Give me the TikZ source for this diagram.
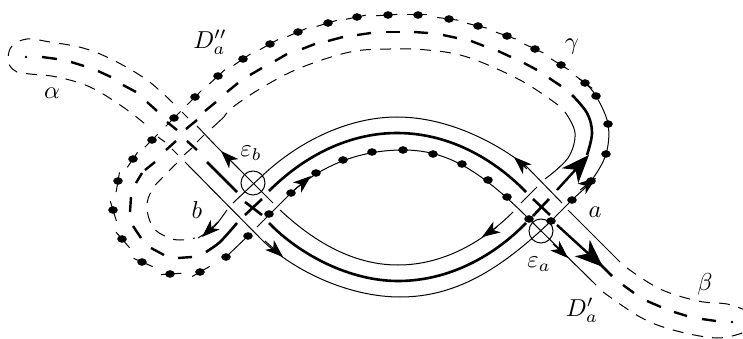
\documentclass[tikz,border=0pt]{standalone}
\usepackage{graphicx}
\usetikzlibrary{arrows.meta,calc}
\tikzset{
 thinl/.style={line width=1pt,line cap=butt},
 dashl/.style={thinl,dash pattern=on 11pt off 9pt},
 thickl/.style={line width=2.6pt},
 thickdash/.style={line width=2.4pt},
 arrowsmall/.style={-{Stealth[length=18pt,width=13pt,inset=5pt]},line width=1pt},
 arrowbig/.style={-{Stealth[length=28pt,width=22pt,inset=8pt]},line width=2.4pt},
 lab/.style={inner sep=0pt},
}
\newcommand{\lbl}[1]{\scalebox{2.45}{$#1$}}
\begin{document}
\begin{tikzpicture}[x=1pt,y=-1pt]
\useasboundingbox (0,0) rectangle (743,339);
% --- thin dashed strands
\draw[dashl] plot[smooth,tension=.6] coordinates {(173,103)(147,80)(113,60)(83,48)(50,42)(27,39)(12,46)(8,58)(10,66)(17,72)(30,74)(57,77)(90,87)(123,107)(150,128)};
\draw[dashl] plot[smooth,tension=.6] coordinates {(558,105)(520,80)(467,57)(427,50)(390,49)(350,52)(300,68)(263,87)(233,107)(224,117)};
\draw[dashl] plot[smooth,tension=.7] coordinates {(177,163)(163,177)(152,190)(147,207)(153,227)(167,237)(180,240)(195,238)};
\draw[dashl] plot[smooth,tension=.6] coordinates {(627,268)(660,289)(698,301)(727,304)(745,310)};
\draw[dashl] plot[smooth,tension=.6] coordinates {(603,292)(640,317)(673,330)(717,338)(745,332)};
% --- short pieces round the upper crossing
\foreach \a/\b/\c/\d in {182/112/188/118,197/126/215/145,158/137/165/142,172/149/178/155,212/128/224/117,197/142/204/135,184/155/192/148}
  \draw[thinl] (\a,\b) -- (\c,\d);
% --- solid thin strands
\draw[thinl] (215,145) -- (273,203);
\draw[thinl] (185,162) -- (262,240) .. controls (295,272) and (350,297) .. (400,297) .. controls (455,297) and (500,270) .. (551,221);
\draw[thinl] (280,210) .. controls (310,238) and (350,265) .. (398,265) .. controls (445,265) and (485,240) .. (513,212);
\draw[thinl] (521,203) -- (537,187);
\draw[thinl] plot[smooth,tension=.6] coordinates {(545,179)(568,158)(575,133)(565,112)};
\draw[thinl] plot[smooth,tension=.5] coordinates {(198,238)(214,227)(227,210)};
\draw[thinl] (233,203) -- (250,187);
\draw[thinl] (250,187) -- (262,176) .. controls (300,140) and (350,117) .. (397,117) .. controls (450,117) and (500,145) .. (527,167) -- (562,203);
\draw[thinl] (568,210) -- (620,262);
% --- dotted strand
\draw[thinl] plot[smooth,tension=.6] coordinates {(579,79)(585,83)(596,96)(608,124)(606,154)(591,181)(572,200)(551,221)};
\draw[thinl] (226,257) -- (251,233);
\draw[thinl] (257,227) -- (291,193) .. controls (325,162) and (365,150) .. (403,150) .. controls (445,150) and (478,168) .. (529,219) -- (596,285);
\foreach \ax/\ay/\bx/\by in {585/83/561/65,561/65/535/49,535/49/507/36,507/36/478/26,478/26/449/19,449/19/418/15,418/15/388/15,388/15/357/17,357/17/328/23,328/23/298/32,298/32/270/44,270/44/243/59,243/59/218/76,218/76/195/97,195/97/174/118,174/118/152/140,152/140/133/159,133/159/118/181,118/181/113/210,113/210/122/239,122/239/142/262,142/262/170/274,170/274/200/272,200/272/226/257}
  \draw[thinl] ($(\ax,\ay)!-0.3!(\bx,\by)$) -- ($(\ax,\ay)!0.38!(\bx,\by)$);
\foreach \p in {(551,221),(572,200),(591,181),(606,154),(608,124),(596,96),(585,83),(561,65),(535,49),(507,36),(478,26),(449,19),(418,15),(388,15),(357,17),(328,23),(298,32),(270,44),(243,59),(218,76),(195,97),(174,118),(152,140),(133,159),(118,181),(113,210),(122,239),(142,262),(170,274),(200,272),(226,257),(248,236),(269,214),(291,193),(316,173),(343,160),(372,152),(403,150),(433,154),(462,164),(488,180),(507,197),(529,219)}
  \fill \p ellipse [x radius=4.8pt,y radius=3.8pt];
% --- thick dashes
\fill (26,57) circle (1.3pt);
\fill (732,322) circle (1.3pt);
\foreach \a/\b/\c/\d in {42/57/57/59,71/62/84/66,98/71/111/77,123/85/136/92,147/102/157/111,205/111/216/102,227/92/238/83,250/75/262/68,275/61/287/54,302/49/315/44,328/41/343/37,357/35/371/33,386/32/400/32,414/32/428/33,443/35/457/38,471/41/484/46,498/51/511/57,524/63/537/70,549/78/561/86,167/122/177/130,186/129/197/120,166/150/176/141,187/141/197/150,155/162/145/170,142/173/136/183,131/197/130/212,133/226/141/238,151/248/164/255,178/258/192/257,623/285/634/293,647/301/661/307,674/312/687/316,702/319/716/321}
  \draw[thickdash] (\a,\b) -- (\c,\d);
% --- thick solid
\draw[thickl] (207,162) -- (237,192);
\draw[thickl] plot[smooth,tension=.5] coordinates {(206,252)(220,242)(237,223)};
\draw[thickl] (245,202) -- (262,215);
\draw[thickl] (262,199) -- (245,215);
\draw[thickl] (269,191) .. controls (305,155) and (350,133) .. (397,133) .. controls (450,133) and (495,160) .. (526,192);
\draw[thickl] (269,223) .. controls (300,255) and (350,281) .. (398,281) .. controls (450,281) and (495,255) .. (526,223);
\draw[thickl] (533,199) -- (550,215);
\draw[thickl] (549,199) -- (533,216);
\draw[thickl] plot[smooth,tension=.6] coordinates {(572,95)(587,113)(592,133)(587,155)};
% --- arrows
\draw[arrowbig] (557,190) -- (589,155);
\draw[arrowbig] (557,225) -- (603,267);
\draw[thickl] (600,264) -- (612,276);
\draw[arrowsmall] (239,169) -- (221,151);
\draw[arrowsmall] (218,222) -- (202,237);
\draw[arrowsmall] (265,241) -- (283,257);
\draw[arrowsmall] (294,190) -- (311,176);
\draw[arrowsmall] (527,169) -- (514,157);
\draw[arrowsmall] (580,190) -- (596,178);
\draw[arrowsmall] (553,244) -- (568,258);
\draw[arrowsmall] (497,227) -- (482,237);
% --- circles
\node[draw,circle,line width=1pt,minimum size=24pt,inner sep=0pt] (epsbc) at (253,183) {};
\node[draw,circle,line width=1pt,minimum size=24pt,inner sep=0pt] (epsac) at (541,231) {};
% --- labels
\node[lab] (alpha) at (52,93) {\lbl{\alpha}};
\node[lab] (dpp) at (210,42) {\lbl{D''_a}};
\node[lab] (gam) at (572,47) {\lbl{\gamma}};
\node[lab] (epb) at (251,153) {\lbl{\varepsilon_b}};
\node[lab] (bb) at (197,210) {\lbl{b}};
\node[lab] (aa) at (595,212) {\lbl{a}};
\node[lab] (epa) at (539,264) {\lbl{\varepsilon_a}};
\node[lab] (dp) at (582,310) {\lbl{D'_a}};
\node[lab] (bet) at (705,284) {\lbl{\beta}};
\end{tikzpicture}
\end{document}
